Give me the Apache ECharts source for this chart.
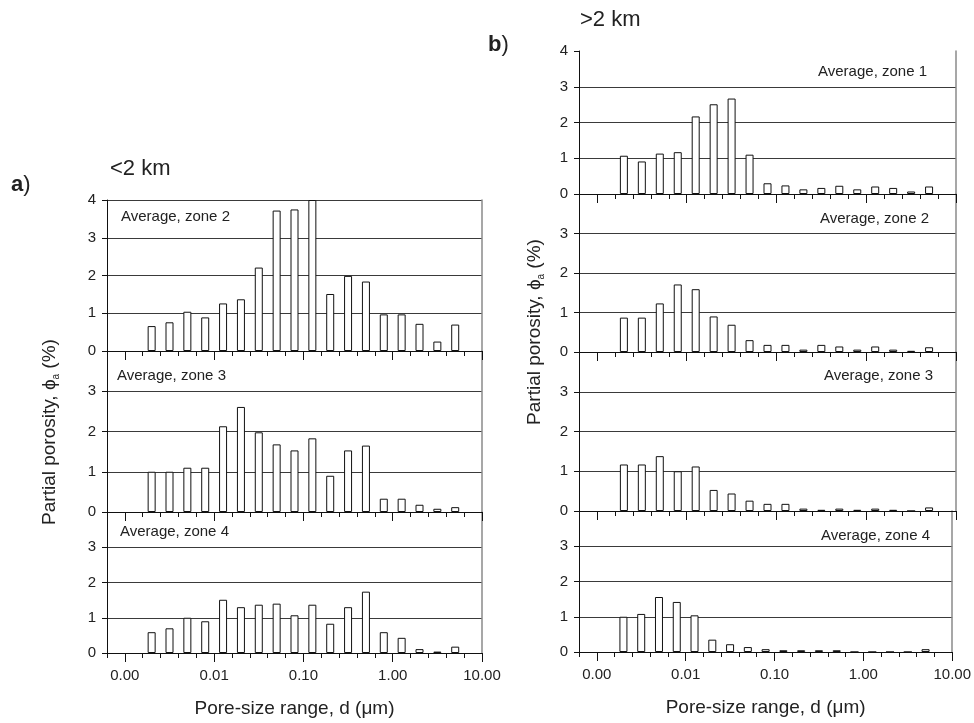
<!DOCTYPE html>
<html>
<head>
<meta charset="utf-8">
<script src="https://cdn.jsdelivr.net/npm/echarts@6/dist/echarts.min.js"></script>
<style>html,body{margin:0;padding:0;background:#fff;}#c{width:974px;height:723px;}</style>
</head>
<body>
<div id="c"></div>
<script>
// bin centres, log10 of pore size d (µm)
const binsLog = [-2.7,-2.5,-2.3,-2.1,-1.9,-1.7,-1.5,-1.3,-1.1,-0.9,-0.7,-0.5,-0.3,-0.1,0.1,0.3,0.5,0.7];
const xTickLabels = [-3,-2,-1,0,1]; // 0.00, 0.01, 0.10, 1.00, 10.00

// panel a (<2 km)
const a_zone2 = [0.66,0.76,1.04,0.89,1.26,1.37,2.21,3.72,3.75,4.0,1.51,1.99,1.84,0.97,0.97,0.72,0.25,0.70];
const a_zone3 = [1.0,1.0,1.10,1.10,2.13,2.61,1.98,1.68,1.53,1.83,0.90,1.53,1.65,0.33,0.33,0.18,0.08,0.12];
const a_zone4 = [0.59,0.70,1.0,0.90,1.51,1.30,1.37,1.40,1.07,1.37,0.83,1.30,1.74,0.59,0.43,0.11,0.04,0.18];
// panel b (>2 km)
const b_zone1 = [1.07,0.91,1.13,1.17,2.17,2.51,2.67,1.10,0.30,0.24,0.13,0.17,0.23,0.13,0.21,0.17,0.07,0.21];
const b_zone2 = [0.87,0.87,1.23,1.71,1.59,0.90,0.69,0.30,0.18,0.18,0.06,0.18,0.14,0.06,0.14,0.06,0.03,0.12];
const b_zone3 = [1.17,1.17,1.38,1.0,1.12,0.53,0.44,0.26,0.18,0.18,0.06,0.03,0.06,0.03,0.06,0.03,0,0.09];
const b_zone4 = [1.0,1.08,1.56,1.42,1.04,0.35,0.22,0.14,0.08,0.05,0.05,0.05,0.05,0,0,0,0,0.08];

const zoneLabels = ['Average, zone 2','Average, zone 3','Average, zone 4','Average, zone 1','Average, zone 2','Average, zone 3','Average, zone 4'];
const yTickTop = [0,1,2,3,4];
const yTick = [0,1,2,3];

const FF = "'Liberation Sans', Arial, sans-serif";
const TXT = '#222';

const panels = [
  {data:a_zone2, left:107, width:375, top:200, height:151, bottomAxis:false, topMost:true, maxLine:true},
  {data:a_zone3, left:107, width:375, top:351, height:161, bottomAxis:false},
  {data:a_zone4, left:107, width:375, top:512, height:141, bottomAxis:true},
  {data:b_zone1, left:579, width:377, top:51, height:143, bottomAxis:false, topMost:true, maxLine:false},
  {data:b_zone2, left:579, width:377, top:194, height:158, bottomAxis:false},
  {data:b_zone3, left:579, width:377, top:352, height:159, bottomAxis:false},
  {data:b_zone4, left:579, width:377, top:511, height:141, bottomAxis:true}
];
const labelPos = [
  {left:121, top:209},{left:117, top:368},{left:120, top:524},
  {right:47, top:64},{right:45, top:211},{right:41, top:368},{right:44, top:528}
];

const grid = [], xAxis = [], yAxis = [], series = [], title = [];
panels.forEach((p, i) => {
  grid.push({left:p.left, top:p.top, width:p.width, height:p.height, containLabel:false});
  xAxis.push({
    type:'value', gridIndex:i, min:-3.2, max:1.0, interval:0.2, position:'bottom',
    axisLine:{show:true, onZero:false, lineStyle:{color:'#111', width:1}},
    axisTick:{show:true, length:5, lineStyle:{color:'#111'}},
    axisLabel:{show:p.bottomAxis, customValues:xTickLabels, margin:15, fontSize:15, color:TXT, fontFamily:FF,
      formatter: v => Math.pow(10, v).toFixed(2)},
    splitLine:{show:false},
    name: p.bottomAxis ? 'Pore-size range, d (\u03bcm)' : '',
    nameLocation:'middle', nameGap:46,
    nameTextStyle:{fontSize:19, color:TXT, fontFamily:FF}
  });
  xAxis.push({
    type:'value', gridIndex:i, min:-3.2, max:1.0, position:'bottom',
    axisLine:{show:false, onZero:false},
    axisTick:{show:true, length:9, customValues:xTickLabels, lineStyle:{color:'#111'}},
    axisLabel:{show:false}, splitLine:{show:false}
  });
  yAxis.push({
    type:'value', gridIndex:i, min:0, max:4, interval:1, position:'left',
    axisLine:{show:true, onZero:false, lineStyle:{color:'#111'}},
    axisTick:{show:true, length:5, lineStyle:{color:'#111'}},
    axisLabel:{customValues: p.topMost ? yTickTop : yTick, margin:11, fontSize:15, color:TXT, fontFamily:FF},
    splitLine:{show:true, showMinLine:false, showMaxLine: p.topMost ? p.maxLine : false, lineStyle:{color:'#3a3a3a', width:1}}
  });
  yAxis.push({
    type:'value', gridIndex:i, min:0, max:4, interval:1, position:'right',
    axisLine:{show:true, onZero:false, lineStyle:{color:'#8a8a8a', width:1.5}},
    axisTick:{show:false}, axisLabel:{show:false}, splitLine:{show:false}
  });
  series.push({
    type:'bar', xAxisIndex:2*i, yAxisIndex:2*i,
    data: binsLog.map((x, k) => [x, p.data[k]]),
    barWidth:8, clip:true, silent:true, animation:false,
    itemStyle:{color:'#fff', borderColor:'#111', borderWidth:1}
  });
  title.push(Object.assign({
    text: zoneLabels[i], padding:0,
    textStyle:{fontSize:15, fontWeight:'normal', color:TXT, fontFamily:FF}
  }, labelPos[i]));
});

title.push({text:'<2 km', left:110, top:158, padding:0, textStyle:{fontSize:22, fontWeight:'normal', color:TXT, fontFamily:FF}});
title.push({text:'>2 km', left:580, top:9, padding:0, textStyle:{fontSize:22, fontWeight:'normal', color:TXT, fontFamily:FF}});
title.push({text:'{b|a})', left:11, top:174, padding:0, textStyle:{fontSize:22, fontWeight:'normal', color:TXT, fontFamily:FF,
  rich:{b:{fontWeight:'bold', fontSize:22, color:TXT, fontFamily:FF}}}});
title.push({text:'{b|b})', left:488, top:34, padding:0, textStyle:{fontSize:22, fontWeight:'normal', color:TXT, fontFamily:FF,
  rich:{b:{fontWeight:'bold', fontSize:22, color:TXT, fontFamily:FF}}}});

function yName(x, y) {
  return {
    type:'text', x:x, y:y, rotation:Math.PI/2, silent:true,
    style:{
      text:'{n|Partial porosity, \u03d5}{s|a}{n| (%)}',
      align:'center', verticalAlign:'middle',
      rich:{
        n:{fontSize:19, fill:TXT, fontFamily:FF, lineHeight:22},
        s:{fontSize:10, fill:TXT, fontFamily:FF, lineHeight:22, verticalAlign:'bottom', padding:[6,0,0,0]}
      }
    }
  };
}

const chart = echarts.init(document.getElementById('c'), null, {renderer:'canvas'});
chart.setOption({
  animation:false,
  backgroundColor:'#fff',
  textStyle:{fontFamily:FF},
  title, grid, xAxis, yAxis, series,
  graphic:[yName(50, 432), yName(535, 332)]
});
</script>
</body>
</html>
